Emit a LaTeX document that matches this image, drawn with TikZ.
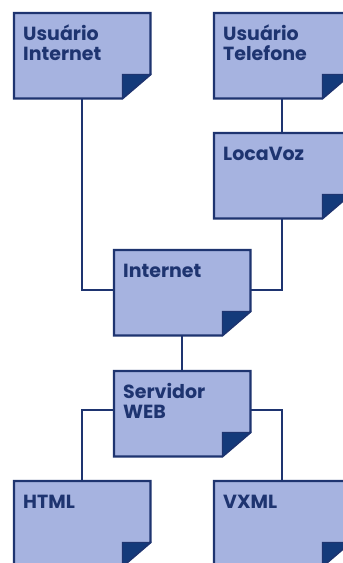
\documentclass[tikz,border=0pt]{standalone}
\usepackage{fontspec}
\setmainfont{Poppins}
\usetikzlibrary{backgrounds}
\definecolor{boxblue}{RGB}{166,179,224}
\definecolor{navy}{RGB}{30,52,112}
\definecolor{flapblue}{RGB}{20,58,122}
\tikzset{
  docbox/.style={inner xsep=9pt, inner ysep=0pt, anchor=north west, text=navy,
    font=\fontsize{19}{20}\selectfont\bfseries},
  link/.style={draw=navy, line width=2.2pt},
}
\newcommand\boxtext[1]{\parbox[c][85pt][t]{118pt}{\baselineskip=20pt\rule{0pt}{27pt}#1}}
\newcommand\dogear[1]{%
  \filldraw[fill=boxblue, draw=navy, line width=2.2pt, line join=miter]
    (#1.north west) -- (#1.north east) -- ([yshift=24pt]#1.south east)
    -- ([xshift=-28pt]#1.south east) -- (#1.south west) -- cycle;
  \filldraw[fill=flapblue, draw=navy, line width=1pt, line join=miter]
    ([xshift=-28pt]#1.south east) -- ([xshift=-28pt,yshift=24pt]#1.south east)
    -- ([yshift=24pt]#1.south east) -- cycle;}
\begin{document}
\begin{tikzpicture}[x=1pt, y=-1pt]
\clip (0,0) rectangle (343,563);
\node[docbox] (UI) at (14,13)  {\boxtext{Usuário\\Internet}};
\node[docbox] (UT) at (214,13) {\boxtext{Usuário\\Telefone}};
\node[docbox] (LV) at (214,133) {\boxtext{LocaVoz}};
\node[docbox] (IN) at (114,250) {\boxtext{Internet}};
\node[docbox] (SW) at (114,371) {\boxtext{Servidor\\WEB}};
\node[docbox] (HT) at (14,481) {\boxtext{HTML}};
\node[docbox] (VX) at (214,481) {\boxtext{VXML}};
\begin{scope}[on background layer]
  \fill[white] (0,0) rectangle (343,563);
  \foreach \n in {UI,UT,LV,IN,SW,HT,VX} {\dogear{\n}}
  \draw[link] (UI.south) |- ([yshift=2.5pt]IN.west);
  \draw[link] (LV.south) |- ([yshift=2.5pt]IN.east);
  \draw[link] (UT.south) -- (LV.north);
  \draw[link] (IN.south) -- (SW.north);
  \draw[link] ([yshift=4pt]SW.west) -| (HT.north);
  \draw[link] ([yshift=4pt]SW.east) -| (VX.north);
\end{scope}
\end{tikzpicture}
\end{document}
